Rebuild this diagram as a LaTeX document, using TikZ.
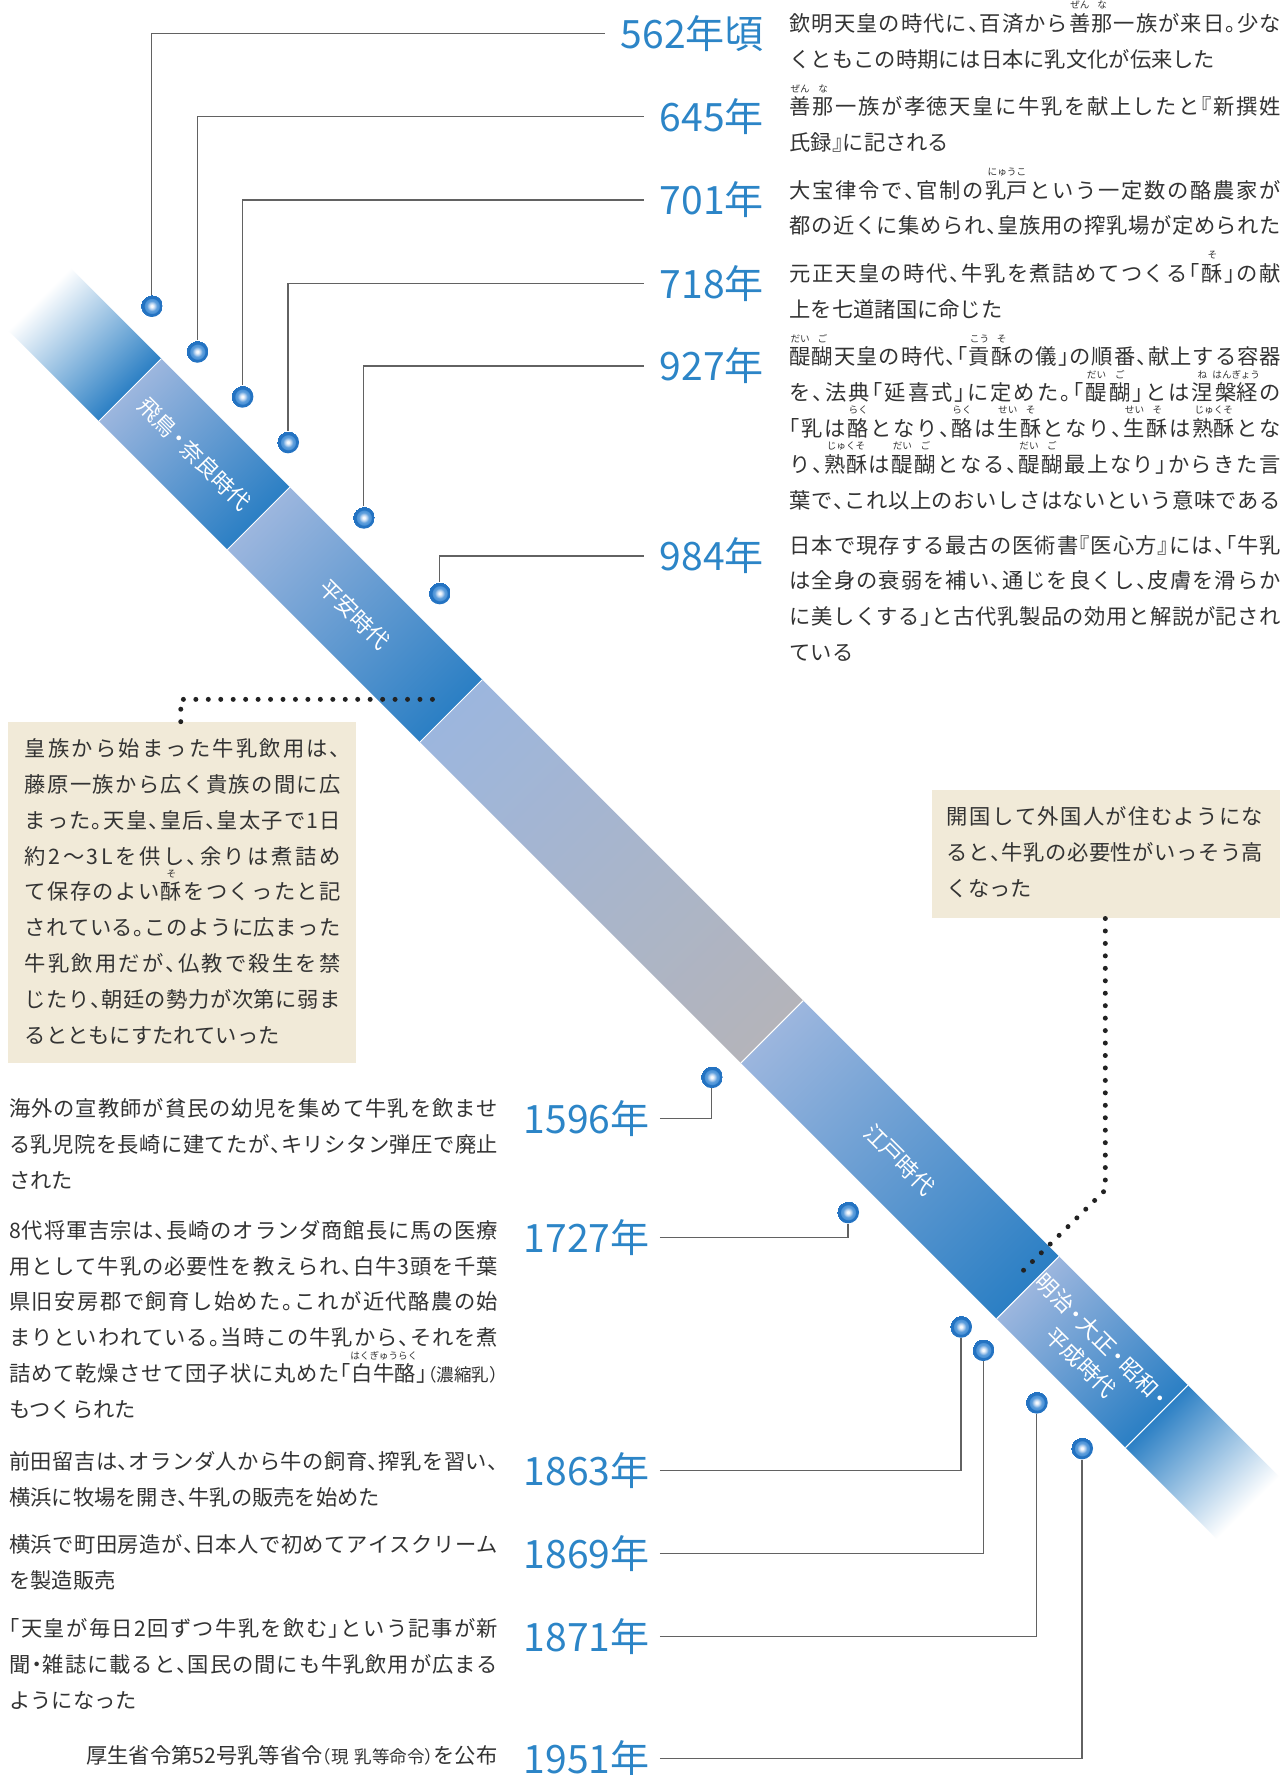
\documentclass[tikz,border=0pt]{standalone}
\usepackage{fontspec}
\setmainfont{Noto Sans CJK JP}
\newfontfamily\jbody{Noto Sans CJK JP}[RawFeature=+halt]
\definecolor{txt}{HTML}{333333}
\definecolor{yrc}{HTML}{2C85C7}
\definecolor{bdark}{HTML}{2B7FC4}
\definecolor{blight}{HTML}{9CB6DE}
\definecolor{bgray}{HTML}{B4B4BA}
\definecolor{beige}{HTML}{F1EAD8}
\definecolor{ldrc}{HTML}{626262}
\definecolor{dotc}{HTML}{222222}
\definecolor{dA}{HTML}{F6F9FD}
\definecolor{dB}{HTML}{B2CFEE}
\definecolor{dC}{HTML}{5599DA}
\definecolor{dD}{HTML}{2473C2}
\pgfdeclareradialshading{glossy}{\pgfpoint{0bp}{0bp}}{color(0bp)=(dA); color(2.5bp)=(dA); color(7bp)=(dB); color(12bp)=(dC); color(15.5bp)=(dC); color(17.5bp)=(dD); color(25bp)=(dD)}
\newlength\rbyw
\newcommand\rby[2]{\settowidth\rbyw{#1}\rlap{\raisebox{20pt}[0pt][0pt]{\makebox[\rbyw]{\fontsize{8.5}{9}\selectfont #2}}}#1}
\newcommand\nsk[1]{{\fontsize{15.5}{16}\selectfont #1}}
\newcommand\spreadc[1]{\ifx\relax#1\else\hskip0pt plus 1fil minus 1fil\relax#1\expandafter\spreadc\fi}
\newcommand\jline[2]{\hbox to #1{\hskip0pt plus -1fil minus -1fil\relax\spreadc#2\relax}}
\newcommand\txtpar[1]{\vtop{\baselineskip=31.7pt\lineskiplimit=-100pt\lineskip=0pt\relax#1}}
\newcommand\nd{\kern-.15em・\kern-.15em}
\begin{document}
\begin{tikzpicture}[x=1pt,y=-1pt,
  yearlbl/.style={font=\fontsize{34.5}{36}\selectfont, text=yrc, inner sep=0pt},
  bead/.style={circle, minimum size=19.5pt, inner sep=0pt, shade, shading=glossy},
  ldr/.style={draw=ldrc, line width=1.1pt},
  dotln/.style={draw=dotc, line width=4.4pt, line cap=round, dash pattern=on 0pt off 11pt},
  bodytxt/.style={font=\jbody\fontsize{18.8}{31.7}\selectfont, text=txt, inner sep=0pt, anchor=base west},
  era/.style={font=\fontsize{19.5}{27}\selectfont, text=white, rotate=-45, inner sep=0pt, align=center},
  panel/.style={fill=beige, inner sep=0pt, anchor=north west}]
\useasboundingbox (0,0) rectangle (1137,1568);
\fill[white] (0,0) rectangle (1137,1568);

% ---- band ----
\begin{scope}[transform canvas={shift={(0,229.5)},rotate=-45}]
  \shade[left color=white, right color=bdark] (49,-39) rectangle (162.6,39);
  \shade[left color=blight, right color=bdark] (162.6,-39) rectangle (323,39);
  \shade[left color=blight, right color=bdark] (323,-39) rectangle (563.6,39);
  \shade[left color=blight, right color=bgray] (563.6,-39) rectangle (964.5,39);
  \shade[left color=blight, right color=bdark] (964.5,-39) rectangle (1284,39);
  \shade[left color=blight, right color=bdark] (1284,-39) rectangle (1445,39);
  \shade[left color=bdark, right color=white] (1445,-39) rectangle (1559,39);
  \foreach \s in {162.6,323,563.6,964.5,1284,1445}
    \draw[white, line width=0.8pt] (\s,-39) -- (\s,39);
\end{scope}

% ---- era labels ----
\node[era] (eAsuka) at (171.8,401.3) {飛鳥\nd 奈良時代};
\node[era] (eHeian) at (313.2,542.7) {平安時代};
\node[era] (eEdo) at (794.8,1024.3) {江戸時代};
\node[era] (eMeiji) at (964.5,1194) {明治\nd 大正\nd 昭和\nd\\平成時代};

% ---- panels ----
\node[panel, minimum width=307.2pt, minimum height=301.3pt] (boxL) at (7.1,637.5) {};
\node[panel, minimum width=307.4pt, minimum height=113.1pt] (boxR) at (822.7,697.9) {};

% ---- dots ----
\node[bead] (d562) at (134.1,270.3) {};
\node[bead] (d645) at (174.3,310.7) {};
\node[bead] (d701) at (214.1,350.4) {};
\node[bead] (d718) at (254.4,390.7) {};
\node[bead] (d927) at (321.4,457.3) {};
\node[bead] (d984) at (388.4,524.1) {};
\node[bead] (d1596) at (628.8,951.5) {};
\node[bead] (d1727) at (749.1,1070.9) {};
\node[bead] (d1863) at (848.9,1172) {};
\node[bead] (d1869) at (868.6,1192.6) {};
\node[bead] (d1871) at (915.8,1239) {};
\node[bead] (d1951) at (955.8,1279.4) {};

% ---- year labels ----
\node[yearlbl, anchor=east] (y562) at (675,29.4) {562年頃};
\node[yearlbl, anchor=east] (y645) at (675,103) {645年};
\node[yearlbl, anchor=east] (y701) at (675,176.7) {701年};
\node[yearlbl, anchor=east] (y718) at (675,250.3) {718年};
\node[yearlbl, anchor=east] (y927) at (675,323.3) {927年};
\node[yearlbl, anchor=east] (y984) at (675,491.2) {984年};
\node[yearlbl, anchor=east] (y1596) at (574,988) {1596年};
\node[yearlbl, anchor=east] (y1727) at (574,1093.5) {1727年};
\node[yearlbl, anchor=east] (y1863) at (574,1298.8) {1863年};
\node[yearlbl, anchor=east] (y1869) at (574,1372.2) {1869年};
\node[yearlbl, anchor=east] (y1871) at (574,1445.8) {1871年};
\node[yearlbl, anchor=east] (y1951) at (574,1553.3) {1951年};

% ---- leaders ----
\foreach \y in {562,645,701,718,927,984}
  \draw[ldr] ([xshift=-14pt]y\y.west) -| (d\y);
\foreach \y in {1596,1727,1863,1869,1871,1951}
  \draw[ldr] ([xshift=9pt]y\y.east) -| (d\y);

% ---- dotted callouts ----
\coordinate (cL) at (390,617.8);
\draw[dotln] ([xshift=152.6pt]boxL.north west) |- (cL);
\coordinate (cRk) at (976.4,1051.2);
\coordinate (cR) at (899.2,1127);
\draw[dotln] ([xshift=153.7pt]boxR.south west) -- (cRk) -- (cR);

% ---- right column texts ----
\node[bodytxt] (t562) at (697.3,27.8) {\txtpar{%
\jline{434pt}{欽明天皇の時代に、百済から{\rby{善}{ぜん}}{\rby{那}{な}}一族が来日。少な}
\hbox{くともこの時期には日本に乳文化が伝来した}}};
\node[bodytxt] (t645) at (697.3,101.4) {\txtpar{%
\jline{434pt}{{\rby{善}{ぜん}}{\rby{那}{な}}一族が孝徳天皇に牛乳を献上したと『新撰姓}
\hbox{氏録』に記される}}};
\node[bodytxt] (t701) at (697.3,175) {\txtpar{%
\jline{434pt}{大宝律令で、官制の{\rby{乳戸}{にゅうこ}}という一定数の酪農家が}
\jline{434pt}{都の近くに集められ、皇族用の搾乳場が定められた}}};
\node[bodytxt] (t718) at (697.3,248.7) {\txtpar{%
\jline{434pt}{元正天皇の時代、牛乳を煮詰めてつくる「{\rby{酥}{そ}}」の献}
\hbox{上を七道諸国に命じた}}};
\node[bodytxt] (t927) at (697.3,322.3) {\txtpar{%
\jline{434pt}{{\rby{醍}{だい}}{\rby{醐}{ご}}天皇の時代、「{\rby{貢}{こう}}{\rby{酥}{そ}}の儀」の順番、献上する容器}
\jline{434pt}{を、法典「延喜式」に定めた。「{\rby{醍}{だい}}{\rby{醐}{ご}}」とは{\rby{涅}{ね}}{\rby{槃経}{はんぎょう}}の}
\jline{434pt}{「乳は{\rby{酪}{らく}}となり、{\rby{酪}{らく}}は{\rby{生}{せい}}{\rby{酥}{そ}}となり、{\rby{生}{せい}}{\rby{酥}{そ}}は{\rby{熟酥}{じゅくそ}}とな}
\jline{434pt}{り、{\rby{熟酥}{じゅくそ}}は{\rby{醍}{だい}}{\rby{醐}{ご}}となる、{\rby{醍}{だい}}{\rby{醐}{ご}}最上なり」からきた言}
\jline{434pt}{葉で、これ以上のおいしさはないという意味である}}};
\node[bodytxt] (t984) at (697.3,488.6) {\txtpar{%
\jline{434pt}{日本で現存する最古の医術書『医心方』には、「牛乳}
\jline{434pt}{は全身の衰弱を補い、通じを良くし、皮膚を滑らか}
\jline{434pt}{に美しくする」と古代乳製品の効用と解説が記され}
\hbox{ている}}};

% ---- panel texts ----
\node[bodytxt] (tBoxL) at (21.7,668.2) {\txtpar{%
\jline{279pt}{皇族から始まった牛乳飲用は、}
\jline{279pt}{藤原一族から広く貴族の間に広}
\jline{279pt}{まった。天皇、皇后、皇太子で1日}
\jline{279pt}{約2〜3Lを供し、余りは煮詰め}
\jline{279pt}{て保存のよい{\rby{酥}{そ}}をつくったと記}
\jline{279pt}{されている。このように広まった}
\jline{279pt}{牛乳飲用だが、仏教で殺生を禁}
\jline{279pt}{じたり、朝廷の勢力が次第に弱ま}
\hbox{るとともにすたれていった}}};
\node[bodytxt] (tBoxR) at (836.3,728.6) {\txtpar{%
\jline{279.4pt}{開国して外国人が住むようにな}
\jline{279.4pt}{ると、牛乳の必要性がいっそう高}
\hbox{くなった}}};

% ---- left column texts ----
\node[bodytxt] (t1596) at (7.9,986.3) {\txtpar{%
\jline{432pt}{海外の宣教師が貧民の幼児を集めて牛乳を飲ませ}
\jline{432pt}{る乳児院を長崎に建てたが、キリシタン弾圧で廃止}
\hbox{された}}};
\node[bodytxt] (t1727) at (7.9,1093.8) {\txtpar{%
\jline{432pt}{8代将軍吉宗は、長崎のオランダ商館長に馬の医療}
\jline{432pt}{用として牛乳の必要性を教えられ、白牛3頭を千葉}
\jline{432pt}{県旧安房郡で飼育し始めた。これが近代酪農の始}
\jline{432pt}{まりといわれている。当時この牛乳から、それを煮}
\jline{432pt}{詰めて乾燥させて団子状に丸めた「{\rby{白牛酪}{はくぎゅうらく}}」{\nsk{（濃縮乳）}}}
\hbox{もつくられた}}};
\node[bodytxt] (t1863) at (7.9,1298.4) {\txtpar{%
\jline{432pt}{前田留吉は、オランダ人から牛の飼育、搾乳を習い、}
\hbox{横浜に牧場を開き、牛乳の販売を始めた}}};
\node[bodytxt] (t1869) at (7.9,1371.1) {\txtpar{%
\jline{432pt}{横浜で町田房造が、日本人で初めてアイスクリーム}
\hbox{を製造販売}}};
\node[bodytxt] (t1871) at (7.9,1445.6) {\txtpar{%
\jline{432pt}{「天皇が毎日2回ずつ牛乳を飲む」という記事が新}
\jline{432pt}{聞・雑誌に載ると、国民の間にも牛乳飲用が広まる}
\hbox{ようになった}}};
\node[bodytxt, anchor=base east] (t1951) at (439.7,1557.6) {厚生省令第52号乳等省令\nsk{（現\hspace{5pt}乳等命令）}を公布};
\end{tikzpicture}
\end{document}
